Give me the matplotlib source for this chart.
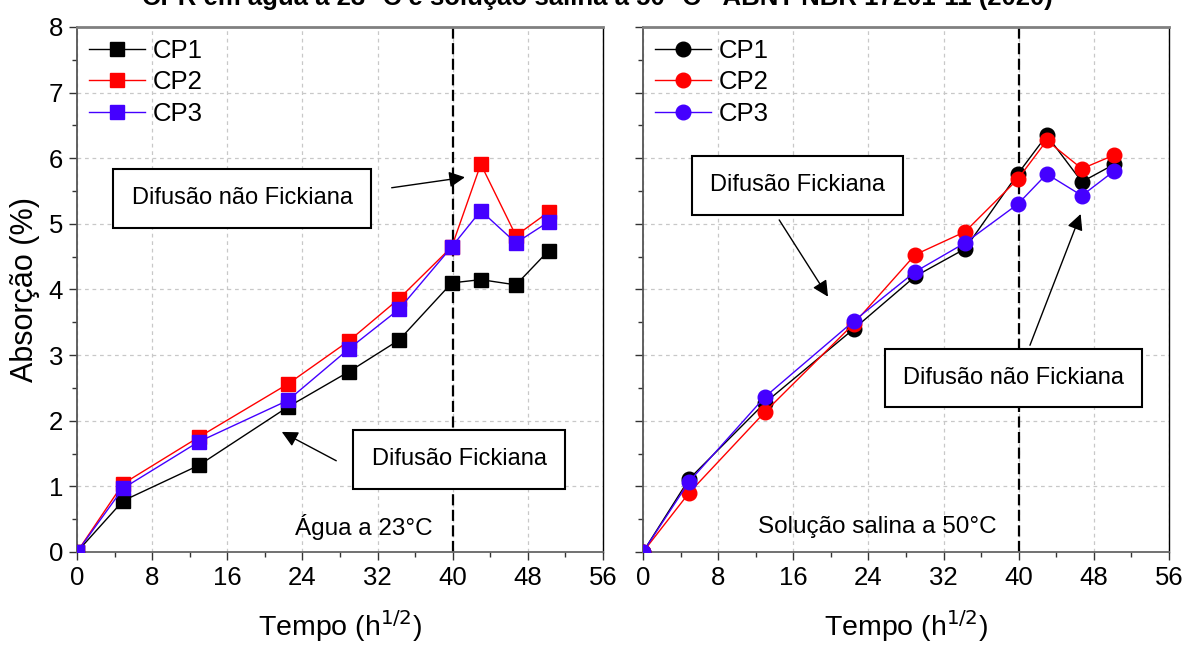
import numpy as np
import matplotlib.pyplot as plt
from matplotlib.ticker import MultipleLocator

plt.rcParams['font.family'] = ['Liberation Sans', 'DejaVu Sans']

# tempo (h^1/2)
tempo = [0, 4.90, 12.96, 22.45, 28.98, 34.29, 39.9, 42.99, 46.73, 50.2]

# agua a 23 C
agua_cp1 = [0, 0.78, 1.32, 2.21, 2.75, 3.23, 4.10, 4.15, 4.07, 4.59]
agua_cp2 = [0, 1.04, 1.75, 2.56, 3.22, 3.86, 4.65, 5.91, 4.82, 5.18]
agua_cp3 = [0, 0.97, 1.68, 2.31, 3.10, 3.70, 4.65, 5.20, 4.71, 5.03]

# solucao salina a 50 C
sal_cp1 = [0, 1.11, 2.27, 3.40, 4.20, 4.62, 5.76, 6.35, 5.64, 5.91]
sal_cp2 = [0, 0.90, 2.13, 3.48, 4.53, 4.88, 5.68, 6.27, 5.84, 6.05]
sal_cp3 = [0, 1.07, 2.36, 3.52, 4.27, 4.71, 5.30, 5.76, 5.43, 5.81]

labels = ['CP1', 'CP2', 'CP3']
cores = ['black', '#ff0000', '#4400ff']
limite = 40

fs_tick = 18.5
fs_label = 20.5
fs_text = 17
fs_leg = 18.5

fig = plt.figure(figsize=(11.87, 6.45), dpi=100)
ax1 = fig.add_axes([0.0649, 0.1442, 0.4431, 0.8140])
ax2 = fig.add_axes([0.5417, 0.1442, 0.4431, 0.8140])


def estilo(ax):
    ax.set_xlim(0, 56)
    ax.set_ylim(0, 8)
    ax.xaxis.set_major_locator(MultipleLocator(8))
    ax.xaxis.set_minor_locator(MultipleLocator(4))
    ax.yaxis.set_major_locator(MultipleLocator(1))
    ax.yaxis.set_minor_locator(MultipleLocator(0.5))
    ax.tick_params(which='major', direction='out', length=6, width=1, labelsize=fs_tick,
                   color='#333333', pad=4)
    ax.tick_params(which='minor', direction='out', length=3.5, width=1, color='#333333')
    ax.grid(True, which='major', linestyle=(0, (3, 3)), color='#c8c8c8', linewidth=0.9)
    ax.set_axisbelow(True)
    ax.spines['top'].set_color('#808080')
    ax.spines['top'].set_linewidth(2)
    ax.spines['bottom'].set_color('#666666')
    ax.spines['bottom'].set_linewidth(1.3)
    ax.spines['left'].set_color('#555555')
    ax.spines['left'].set_linewidth(1.3)
    ax.spines['right'].set_color('black')
    ax.spines['right'].set_linewidth(1)
    ax.axvline(limite, color='black', linestyle=(0, (5, 2)), linewidth=1.6, zorder=1)
    ax.set_xlabel('Tempo (h$^{1/2}$)', fontsize=fs_label, labelpad=13)


def caixa(ax, txt, x, y):
    ax.text(x, y, txt, fontsize=fs_text, ha='center', va='center',
            bbox=dict(boxstyle='square,pad=0.78', fc='white', ec='black', lw=1.5), zorder=5)


def seta(ax, xy, xytext):
    ax.annotate('', xy=xy, xytext=xytext,
                arrowprops=dict(arrowstyle='-|>', color='black', lw=1, mutation_scale=24,
                                shrinkA=0, shrinkB=0), zorder=5)


for ax in (ax1, ax2):
    estilo(ax)

for serie, lab, cor in zip([agua_cp1, agua_cp2, agua_cp3], labels, cores):
    ax1.plot(tempo, serie, color=cor, lw=1, marker='s', markersize=10, label=lab, zorder=3)

for serie, lab, cor in zip([sal_cp1, sal_cp2, sal_cp3], labels, cores):
    ax2.plot(tempo, serie, color=cor, lw=1, marker='o', markersize=10.5, label=lab, zorder=3)

for ax in (ax1, ax2):
    ax.legend(loc='upper left', frameon=False, fontsize=fs_leg, handlelength=2.2,
              handletextpad=0.3, labelspacing=0.3, borderaxespad=0.1, borderpad=0.35)

ax1.set_ylabel('Absorção (%)', fontsize=fs_label + 1.5, labelpad=6)
ax2.tick_params(axis='y', labelleft=False)

# anotacoes painel esquerdo
caixa(ax1, 'Difusão não Fickiana', 17.6, 5.39)
seta(ax1, (41.3, 5.71), (33.5, 5.55))
caixa(ax1, 'Difusão Fickiana', 40.7, 1.41)
seta(ax1, (21.8, 1.83), (27.6, 1.39))
ax1.text(30.5, 0.38, 'Água a 23°C', fontsize=fs_text + 0.5, ha='center', va='center')

# anotacoes painel direito
caixa(ax2, 'Difusão Fickiana', 16.45, 5.59)
seta(ax2, (19.7, 3.89), (14.5, 5.06))
caixa(ax2, 'Difusão não Fickiana', 39.45, 2.65)
seta(ax2, (46.6, 5.15), (41.2, 3.15))
ax2.text(24.9, 0.38, 'Solução salina a 50°C', fontsize=fs_text + 0.5, ha='center', va='center')

fig.text(0.503, 1 - 5 / 645, 'CPR em água a 23 °C e solução salina a 50 °C - ABNT NBR 17201-11 (2020)',
         fontsize=18.5, fontweight='bold', ha='center', va='baseline')

fig.savefig('out.png', dpi=100)
